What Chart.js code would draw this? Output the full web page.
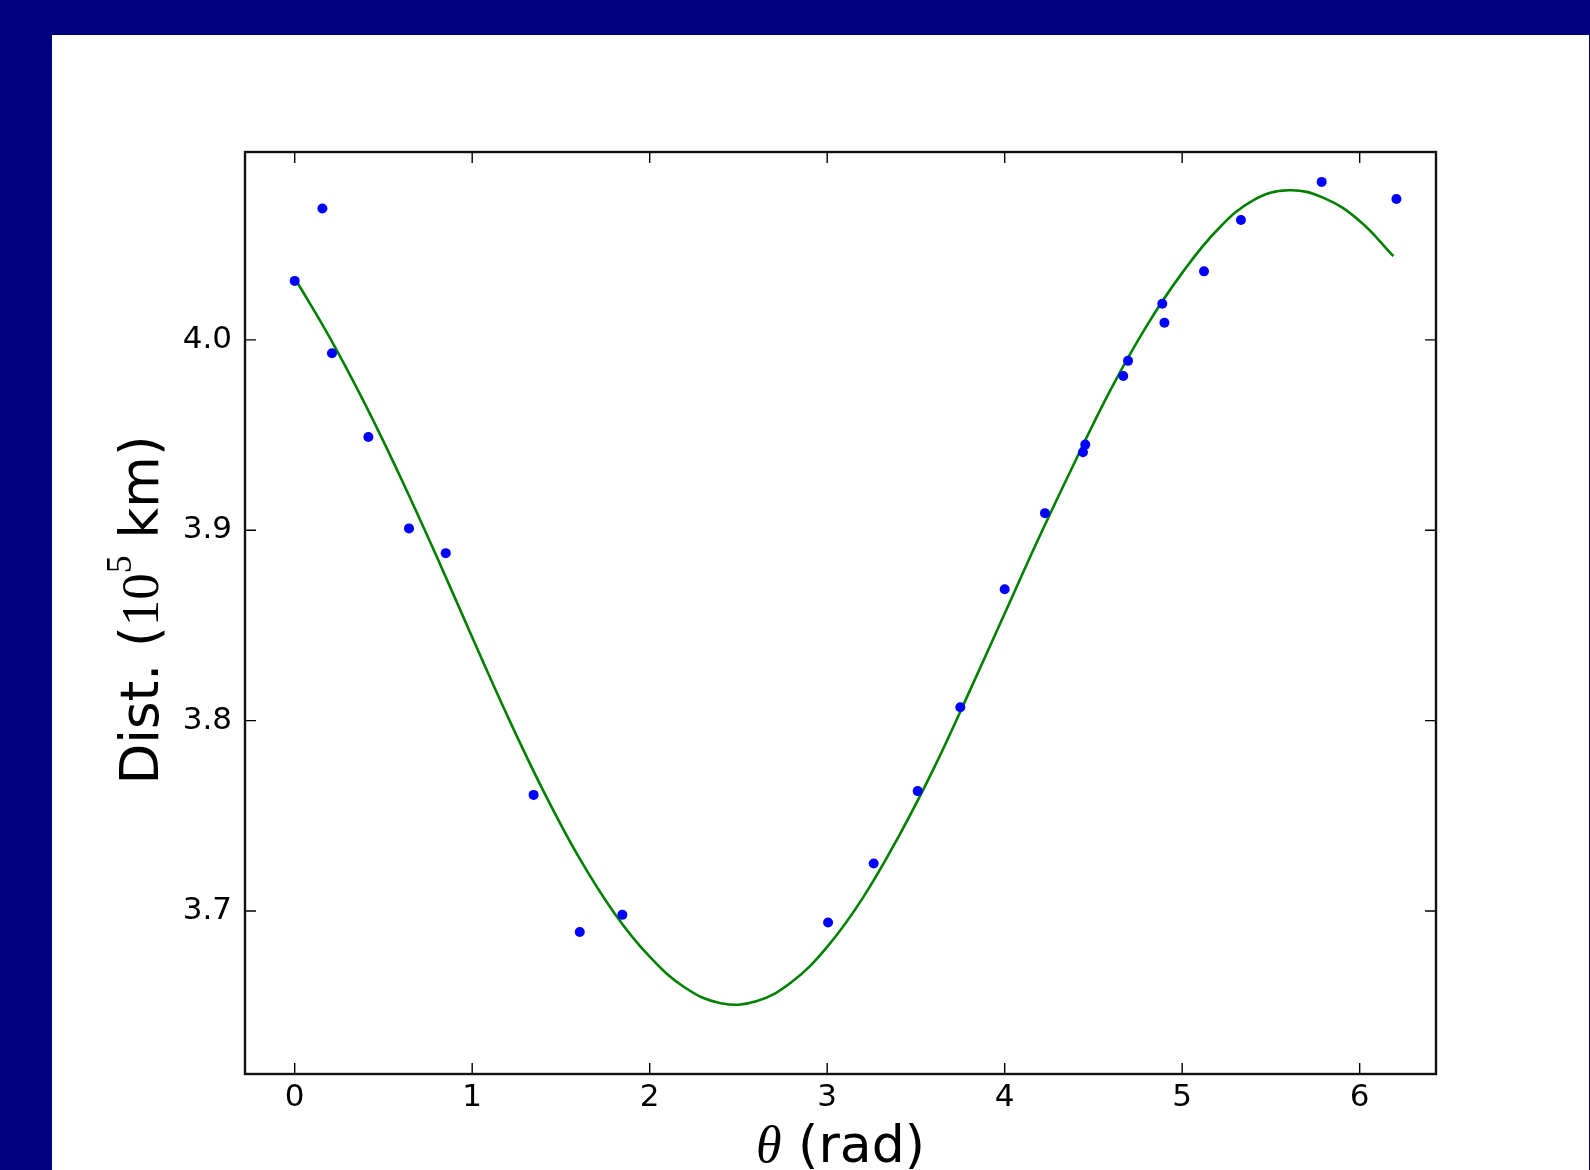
<!DOCTYPE html>
<html>
<head>
<meta charset="utf-8">
<title>Distance vs angle</title>
<script src="https://cdn.jsdelivr.net/npm/chart.js@4.4.0/dist/chart.umd.min.js"></script>
<style>
  html, body { margin: 0; padding: 0; width: 1590px; height: 1170px; overflow: hidden; background: #000080; }
  #panel { position: absolute; left: 52px; top: 35px; width: 1537px; height: 1152px; background: #ffffff; }
  canvas { display: block; }
</style>
</head>
<body>
<div id="panel"><canvas id="myChart" width="1537" height="1152"></canvas></div>
<script>
// measured points (theta in rad, distance in 10^5 km)
const thetaObs = [0, 0.156, 0.210, 0.415, 0.644, 0.851, 1.346, 1.606, 1.846, 3.005, 3.262, 3.510, 3.750,
                  4.000, 4.227, 4.441, 4.454, 4.668, 4.695, 4.888, 4.900, 5.123, 5.331, 5.786, 6.207];
const distObs = [4.031, 4.069, 3.993, 3.949, 3.901, 3.888, 3.761, 3.689, 3.698, 3.694, 3.725, 3.763, 3.807,
                 3.869, 3.909, 3.941, 3.945, 3.981, 3.989, 4.019, 4.009, 4.036, 4.063, 4.083, 4.074];

// fitted curve, every 0.2 rad
const thetaFit = [0, 0.2, 0.4, 0.6, 0.8, 1.0, 1.2, 1.4, 1.6, 1.8, 2.0, 2.2, 2.4, 2.6, 2.8, 3.0,
                  3.2, 3.4, 3.6, 3.8, 4.0, 4.2, 4.4, 4.6, 4.8, 5.0, 5.2, 5.4, 5.6, 5.8, 6.0, 6.19];
const distFit = [4.0325, 4.0008, 3.9656, 3.9271, 3.8862, 3.8438, 3.8022, 3.7633, 3.7284, 3.6990, 3.6760,
                 3.6597, 3.6516, 3.6526, 3.6627, 3.6812, 3.7068, 3.7387, 3.7748, 3.8150, 3.8563, 3.8975,
                 3.9368, 3.9744, 4.0074, 4.0352, 4.0580, 4.0733, 4.0786, 4.0745, 4.0625, 4.0440];

// tick labels
const xTicks = [0, 1, 2, 3, 4, 5, 6];
const yTicks = [3.7, 3.8, 3.9, 4.0];

// axis titles, split where the font changes
const xTitleParts = [
  { text: "\u03B8", font: "italic 52px 'Liberation Serif', serif" },
  { text: " (rad)", font: "52px 'DejaVu Sans', sans-serif" }
];
const yTitleParts = [
  { text: "Dist. (", font: "53px 'DejaVu Sans', sans-serif" },
  { text: "10", font: "53px 'Liberation Serif', serif" },
  { text: "5", font: "36px 'Liberation Serif', serif", dy: -27 },
  { text: " km)", font: "53px 'DejaVu Sans', sans-serif" }
];

const sans = "'DejaVu Sans', sans-serif";

const obsPoints = thetaObs.map((t, i) => ({ x: t, y: distObs[i] }));
const fitPoints = thetaFit.map((t, i) => ({ x: t, y: distFit[i] }));

// draws a line of text made of several font runs, centred on (cx, baseY)
function drawParts(ctx, parts, cx, baseY, angle) {
  ctx.save();
  ctx.translate(cx, baseY);
  ctx.rotate(angle);
  ctx.fillStyle = '#000';
  ctx.textAlign = 'left';
  ctx.textBaseline = 'alphabetic';
  let total = 0;
  parts.forEach(p => { ctx.font = p.font; p.w = ctx.measureText(p.text).width; total += p.w; });
  let pos = -total / 2;
  parts.forEach(p => { ctx.font = p.font; ctx.fillText(p.text, pos, p.dy || 0); pos += p.w; });
  ctx.restore();
}

// matplotlib style box with ticks pointing inwards on all four sides
const axesFrame = {
  id: 'axesFrame',
  afterDatasetsDraw(chart) {
    const { ctx, chartArea: { left, right, top, bottom }, scales: { x, y } } = chart;
    ctx.save();
    ctx.strokeStyle = '#000';
    ctx.lineWidth = 1.4;
    ctx.beginPath();
    x.ticks.forEach(t => {
      const px = x.getPixelForValue(t.value);
      ctx.moveTo(px, bottom); ctx.lineTo(px, bottom - 11);
      ctx.moveTo(px, top); ctx.lineTo(px, top + 11);
    });
    y.ticks.forEach(t => {
      const py = y.getPixelForValue(t.value);
      ctx.moveTo(left, py); ctx.lineTo(left + 11, py);
      ctx.moveTo(right, py); ctx.lineTo(right - 11, py);
    });
    ctx.stroke();
    ctx.lineWidth = 2.4;
    ctx.strokeStyle = '#111';
    ctx.strokeRect(left, top, right - left, bottom - top);
    ctx.restore();
  }
};

const axisTitles = {
  id: 'axisTitles',
  afterDraw(chart) {
    const { ctx, chartArea } = chart;
    const cx = (chartArea.left + chartArea.right) / 2;
    const cy = (chartArea.top + chartArea.bottom) / 2;
    drawParts(ctx, xTitleParts, cx, 1127, 0);
    drawParts(ctx, yTitleParts, 106, cy - 3, -Math.PI / 2);
  }
};

const myChart = document.getElementById('myChart');

let distChart = new Chart(myChart, {
  type: 'scatter',
  data: {
    datasets: [
      {
        label: 'Fit',
        data: fitPoints,
        showLine: true,
        borderColor: '#008000',
        borderWidth: 2.6,
        pointRadius: 0,
        tension: 0.4,
        fill: false,
        order: 1
      },
      {
        label: 'Measured',
        data: obsPoints,
        backgroundColor: '#0000ff',
        borderWidth: 0,
        pointRadius: 5,
        order: 0
      }
    ]
  },
  options: {
    responsive: false,
    animation: false,
    layout: { padding: { left: 0, top: 117, right: 153, bottom: 0 } },
    plugins: {
      legend: { display: false },
      tooltip: { enabled: false }
    },
    scales: {
      x: {
        type: 'linear',
        position: 'bottom',
        min: -0.28,
        max: 6.43,
        grid: { display: false, drawTicks: false },
        border: { display: false },
        afterBuildTicks: s => { s.ticks = xTicks.map(v => ({ value: v })); },
        ticks: {
          padding: 5,
          color: '#000',
          font: { family: sans, size: 31 },
          callback: v => v.toFixed(0)
        },
        afterFit: s => { s.height = 113; }
      },
      y: {
        type: 'linear',
        min: 3.6144,
        max: 4.0987,
        grid: { display: false, drawTicks: false },
        border: { display: false },
        afterBuildTicks: s => { s.ticks = yTicks.map(v => ({ value: v })); },
        ticks: {
          padding: 13,
          color: '#000',
          font: { family: sans, size: 31 },
          callback: v => v.toFixed(1)
        },
        afterFit: s => { s.width = 193; }
      }
    }
  },
  plugins: [axesFrame, axisTitles]
});
</script>
</body>
</html>
